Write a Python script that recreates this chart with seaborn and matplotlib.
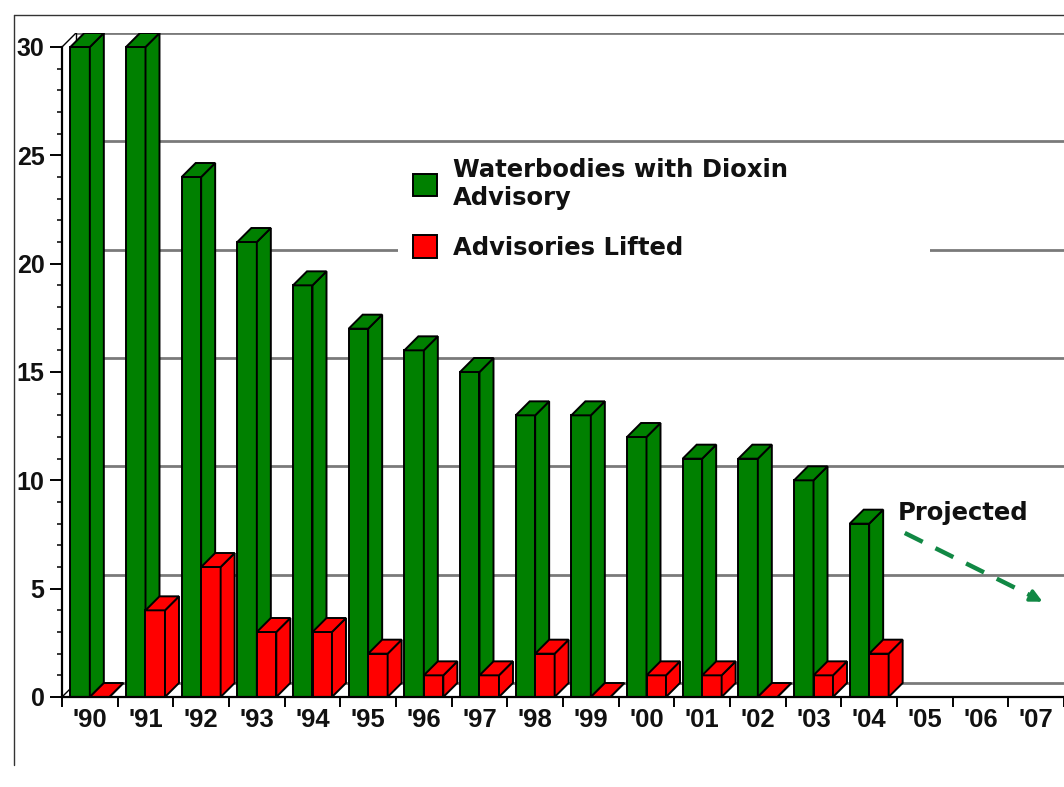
import numpy as np
import pandas as pd
import matplotlib
matplotlib.use("Agg")
import matplotlib.pyplot as plt
import seaborn as sns
from matplotlib.patches import Polygon, Rectangle, Patch
from matplotlib.lines import Line2D

# ---------------- data ----------------
years = ["'90", "'91", "'92", "'93", "'94", "'95", "'96", "'97", "'98",
         "'99", "'00", "'01", "'02", "'03", "'04", "'05", "'06", "'07"]
data_years = years[:15]
advisory = [30, 30, 24, 21, 19, 17, 16, 15, 13, 13, 12, 11, 11, 10, 8]
lifted = [0, 4, 6, 3, 3, 2, 1, 1, 2, 0, 1, 1, 0, 1, 2]
series_names = ["Waterbodies with Dioxin\nAdvisory", "Advisories Lifted"]
y_ticks = [0, 5, 10, 15, 20, 25, 30]

df = pd.DataFrame({
    "year": data_years * 2,
    "value": advisory + lifted,
    "series": [series_names[0]] * len(data_years) + [series_names[1]] * len(data_years),
})

# ---------------- style ----------------
GREEN = "#008000"
RED = "#ff0000"
GRID = "#7a7a7a"
W, H = 1064, 787
DX = 14 / 55.67   # depth offset in category units
DY = 14 / 21.67   # depth offset in value units
YMAX = 30
EDGE_LW = 1.4

sns.set_theme(style="white")
plt.rcParams["font.family"] = ["DejaVu Sans"]

fig = plt.figure(figsize=(W / 100, H / 100), dpi=100)
ax = fig.add_axes([62 / W, 1 - 697 / H, 1 - 62 / W, (697 - 33) / H])
ax.set_facecolor("white")

sns.barplot(data=df, x="year", y="value", hue="series", order=years,
            hue_order=series_names, palette=[GREEN, RED], saturation=1,
            width=0.7, gap=0, edgecolor="black", linewidth=EDGE_LW, ax=ax,
            legend=False)

ax.set_xlim(-0.5, len(years) - 0.5)
ax.set_ylim(0, YMAX + DY)

# back-wall gridlines and frame
for v in y_ticks:
    ax.plot([-0.5 + DX, len(years) - 0.5 + DX], [v + DY, v + DY],
            color=GRID, lw=2.0, zorder=1, solid_capstyle="butt")
ax.plot([-0.5, -0.5 + DX], [0, DY], color="black", lw=1, zorder=1)
ax.plot([-0.5, -0.5 + DX], [YMAX, YMAX + DY], color="black", lw=1, zorder=1)
ax.plot([-0.5 + DX, -0.5 + DX], [DY, YMAX + DY], color="black", lw=1, zorder=1)
ax.plot([len(years) - 0.5, len(years) - 0.5 + DX], [0, DY], color="black", lw=1, zorder=1)

# 3D faces for each bar
for p in list(ax.patches):
    x0, w, h = p.get_x(), p.get_width(), p.get_height()
    if not np.isfinite(h):
        continue
    fc = p.get_facecolor()
    idx = int(round(x0 + w / 2))
    is_red = (x0 + w / 2) > idx
    z = 3 + 2 * idx + (1 if is_red else 0)
    p.set_zorder(z)
    side = Polygon([(x0 + w, 0), (x0 + w + DX, DY), (x0 + w + DX, h + DY), (x0 + w, h)],
                   closed=True, facecolor=fc, edgecolor="black", lw=EDGE_LW, zorder=z)
    top = Polygon([(x0, h), (x0 + DX, h + DY), (x0 + w + DX, h + DY), (x0 + w, h)],
                  closed=True, facecolor=fc, edgecolor="black", lw=EDGE_LW, zorder=z)
    ax.add_patch(side)
    ax.add_patch(top)

# axes, ticks
for s in ["top", "right"]:
    ax.spines[s].set_visible(False)
ax.spines["left"].set_bounds(0, YMAX)
ax.spines["bottom"].set_bounds(-0.5, len(years) - 0.5)
for s in ["left", "bottom"]:
    ax.spines[s].set_color("black")
    ax.spines[s].set_linewidth(1.6)
    ax.spines[s].set_zorder(60)

ax.set_yticks(y_ticks)
ax.set_yticks(range(0, YMAX + 1), minor=True)
ax.set_xticks(range(len(years)))
ax.set_xticklabels(years)
ax.set_xticks(np.arange(-0.5, len(years)), minor=True)
ax.tick_params(axis="y", which="major", direction="out", length=8.5, width=1.4,
               color="black", pad=4, left=True)
ax.tick_params(axis="y", which="minor", direction="out", length=3.6, width=1.1,
               color="black", left=True)
ax.tick_params(axis="x", which="major", length=0, pad=8, bottom=True)
ax.tick_params(axis="x", which="minor", direction="out", length=7, width=1.4,
               color="black", bottom=True)
for lab in ax.get_yticklabels():
    lab.set_fontfamily("Liberation Sans")
    lab.set_fontweight("bold")
    lab.set_fontsize(18)
    lab.set_color("#111111")
for lab in ax.get_xticklabels():
    lab.set_fontfamily("Liberation Sans")
    lab.set_fontweight("bold")
    lab.set_fontsize(18.5)
    lab.set_color("#111111")
ax.set_xlabel("")
ax.set_ylabel("")
ax.grid(False)

# legend
ax.add_patch(Rectangle((398 / W, 1 - 264 / H), (930 - 398) / W, (264 - 146) / H,
                       transform=fig.transFigure, facecolor="white",
                       edgecolor="none", zorder=1.5))
handles = [Patch(facecolor=GREEN, edgecolor="black", lw=EDGE_LW),
           Patch(facecolor=RED, edgecolor="black", lw=EDGE_LW)]
leg = ax.legend(handles, series_names, loc="upper left",
                bbox_to_anchor=(413 / W, 1 - 158 / H), bbox_transform=fig.transFigure,
                frameon=False, borderpad=0, borderaxespad=0,
                prop=dict(family="DejaVu Sans", weight="bold", size=17.5),
                handlelength=1.0, handleheight=1.05, handletextpad=0.65,
                labelspacing=1.05)
leg.set_zorder(70)
for t in leg.get_texts():
    t.set_color("#111111")

# "Projected" annotation
ax.text(14.52, 8.15, "Projected", fontfamily="DejaVu Sans", fontweight="bold",
        fontsize=17.5, color="#111111", va="baseline", ha="left", zorder=70)
ARROW = "#118844"
ax.plot([14.64, 16.95], [7.57, 4.62], color=ARROW, lw=3.2, ls=(0, (4.5, 3.2)),
        zorder=70, solid_capstyle="butt")
ax.annotate("", xy=(17.16, 4.34), xytext=(16.85, 4.74),
            arrowprops=dict(arrowstyle="-|>", color=ARROW, lw=2.5,
                            mutation_scale=18), zorder=70)

# outer border
fig.add_artist(Line2D([14 / W, 1], [1 - 15 / H, 1 - 15 / H], transform=fig.transFigure,
                      color="#333333", lw=1))
fig.add_artist(Line2D([14 / W, 14 / W], [1 - 15 / H, 1 - 765 / H], transform=fig.transFigure,
                      color="#333333", lw=1))

fig.savefig("out.png", dpi=100, facecolor="white")
